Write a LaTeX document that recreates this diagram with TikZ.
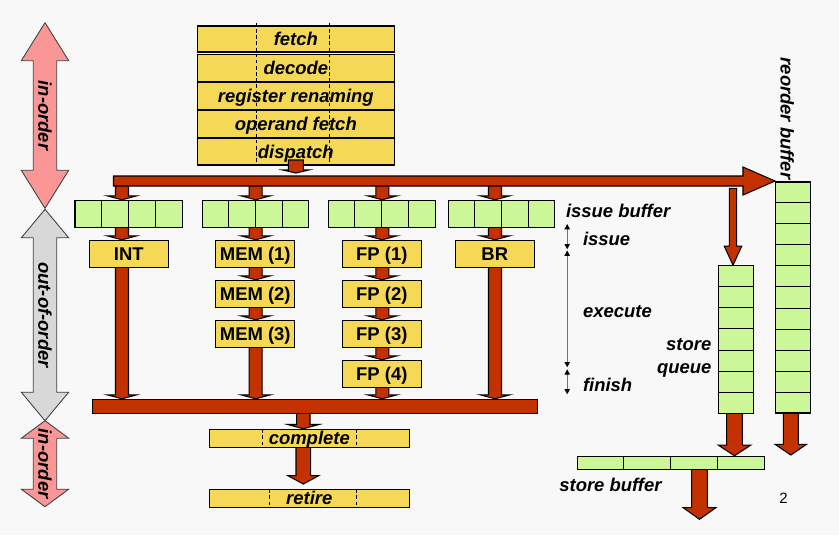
\documentclass[tikz,border=0pt]{standalone}
\usepackage{fontspec}
\setmainfont{Liberation Sans}
\usetikzlibrary{calc,backgrounds,arrows.meta}
\newlength\pu \setlength\pu{0.02cm}
\definecolor{bgcol}{HTML}{F8F8F8}
\definecolor{yelcol}{RGB}{244,216,86}
\definecolor{grncol}{RGB}{204,247,153}
\definecolor{redcol}{RGB}{196,49,0}
\definecolor{pinkcol}{RGB}{250,150,150}
\definecolor{greycol}{RGB}{216,216,216}
\newcommand\lab{\fontsize{10.5}{12}\selectfont\bfseries}
% block arrow pointing down: [style](start)(tip){shaft half}{head half}{head length}
\def\blkdown[#1](#2)(#3)#4#5#6{\draw[#1] ($(#2)+(-#4,0)$) -- ($(#3)+(-#4,-#6)$) -- ($(#3)+(-#5,-#6)$) -- (#3) -- ($(#3)+(#5,-#6)$) -- ($(#3)+(#4,-#6)$) -- ($(#2)+(#4,0)$) -- cycle;}
% vertical double block arrow: [style](top tip)(bottom tip){shaft half}{head half}{head length}
\def\dblarrow[#1](#2)(#3)#4#5#6{\draw[#1] (#2) -- ($(#2)+(#5,#6)$) -- ($(#2)+(#4,#6)$) -- ($(#3)+(#4,-#6)$) -- ($(#3)+(#5,-#6)$) -- (#3) -- ($(#3)+(-#5,-#6)$) -- ($(#3)+(-#4,-#6)$) -- ($(#2)+(-#4,#6)$) -- ($(#2)+(-#5,#6)$) -- cycle;}
\tikzset{
  stage/.style={draw, fill=yelcol, line width=0.6pt, minimum width=197\pu, inner sep=0pt, text height=7.5pt, text depth=0pt, font=\lab\itshape},
  unit/.style={draw, fill=yelcol, line width=0.6pt, minimum width=79\pu, minimum height=27\pu, inner sep=0pt, text height=7.5pt, text depth=0pt, font=\lab},
  buf/.style={draw, fill=grncol, line width=0.6pt, inner sep=0pt},
  cell/.style={line width=0.6pt},
  flow/.style={draw=black, fill=redcol, line width=0.6pt},
  pinkarrow/.style={draw=black!75, fill=pinkcol, line width=0.5pt},
  greyarrow/.style={draw=black!75, fill=greycol, line width=0.5pt},
  sep/.style={line width=0.5pt, dash pattern=on 2pt off 1.5pt},
  lbl/.style={font=\lab\itshape, inner sep=0pt},
  dim/.style={draw=black!55, line width=0.5pt, {Triangle[length=3pt,width=3pt,color=black]}-{Triangle[length=3pt,width=3pt,color=black]}}
}
\begin{document}
\begin{tikzpicture}[x=0.02cm, y=-0.02cm]
  \useasboundingbox (0,0) rectangle (839,535);

  %%% front end
  \node[stage, minimum height=26\pu] (fetch) at (295.8,39) {fetch};
  \node[stage, minimum height=27.5\pu] (decode) at (295.8,68) {decode};
  \node[stage, minimum height=28\pu] (rename) at (295.8,96) {register renaming};
  \node[stage, minimum height=28\pu] (opfetch) at (295.8,124) {operand fetch};
  \node[stage, minimum height=27\pu] (dispatch) at (295.8,151.5) {dispatch};
  \foreach \x in {256.7,329.3}
    \draw[sep] (\x,23) -- (\x,163);
  \coordinate (dtop) at (295.8,160);
  \coordinate (dtip) at (295.8,173);
  \blkdown[flow](dtop)(dtip){7.5}{13}{3}

  %%% dispatch bus
  \coordinate (bar) at (113.5,181);
  \draw[flow] (113.5,176) -- (743,176) -- (743,167) -- (775,181) -- (743,195) -- (743,186) -- (113.5,186) -- cycle;

  %%% issue buffers
  \foreach \n/\x/\w in {ib1/128.65/107.3, ib2/255.3/106, ib3/381.8/107, ib4/501.3/106} {
    \node[buf, minimum width=\w\pu, minimum height=27\pu] (\n) at (\x,213.8) {};
    \foreach \k in {1,2,3}
      \draw[cell] ($(\n.north west)!\k/4!(\n.north east)$) -- ($(\n.south west)!\k/4!(\n.south east)$);
  }

  %%% function units
  \node[unit] (int) at (128.8,253.8) {INT};
  \node[unit] (mem1) at (255.3,253.8) {MEM (1)};
  \node[unit] (mem2) at (255.3,293.8) {MEM (2)};
  \node[unit] (mem3) at (255.3,333.8) {MEM (3)};
  \node[unit] (fp1) at (381.8,253.8) {FP (1)};
  \node[unit] (fp2) at (381.8,293.8) {FP (2)};
  \node[unit] (fp3) at (381.8,333.8) {FP (3)};
  \node[unit] (fp4) at (381.8,373.8) {FP (4)};
  \node[unit] (br) at (494.8,253.8) {BR};

  %%% completion bus, complete and retire
  \node[flow, minimum width=445\pu, minimum height=14\pu, inner sep=0pt] (cbar) at (314.8,406.3) {};
  \node[stage, minimum width=200\pu, minimum height=18\pu] (complete) at (309.3,438.3) {complete};
  \node[stage, minimum width=200\pu, minimum height=18\pu] (retire) at (309.3,498.3) {retire};
  \draw[sep] (262.7,429.3) -- (262.7,447.3);
  \draw[sep] (356.7,429.3) -- (356.7,447.3);
  \draw[sep] (269.3,489.3) -- (269.3,507.3);
  \draw[sep] (356.7,489.3) -- (356.7,507.3);

  %%% reorder buffer, store queue, store buffer
  \node[buf, minimum width=34.6\pu, minimum height=231\pu] (rob) at (793,297.5) {};
  \foreach \k in {1,...,10}
    \draw[cell] ($(rob.north west)!\k/11!(rob.south west)$) -- ($(rob.north east)!\k/11!(rob.south east)$);
  \node[buf, minimum width=35\pu, minimum height=147.6\pu] (sq) at (735.8,339.5) {};
  \foreach \k in {1,...,6}
    \draw[cell] ($(sq.north west)!\k/7!(sq.south west)$) -- ($(sq.north east)!\k/7!(sq.south east)$);
  \node[buf, minimum width=187\pu, minimum height=13\pu] (sb) at (670.8,462.8) {};
  \foreach \k in {1,2,3}
    \draw[cell] ($(sb.north west)!\k/4!(sb.north east)$) -- ($(sb.south west)!\k/4!(sb.south east)$);

  %%% labels
  \node[lbl, anchor=base west] (ibl) at (565.7,217.3) {issue buffer};
  \node[lbl, anchor=base west] (isl) at (582.7,245) {issue};
  \node[lbl, anchor=base west] (exl) at (582.7,317.7) {execute};
  \node[lbl, anchor=base west] (fil) at (582.7,391) {finish};
  \node[lbl, anchor=base east] (stl) at (711.7,350.7) {store};
  \node[lbl, anchor=base east] (qul) at (711.7,373.5) {queue};
  \node[lbl, anchor=base west] (sbl) at (559,491.7) {store buffer};
  \node[lbl, rotate=-90] (robl) at (787.3,118.4) {reorder buffer};
  \node[font=\fontsize{8.5}{10}\selectfont, anchor=base west, inner sep=0pt] (page) at (779,503.3) {2};

  %%% issue / execute / finish spans
  \foreach \n/\y in {a/224, b/249.3, c/250.5, d/367.3, e/369.3, f/394.3}
    \coordinate (dim\n) at (567.2,\y);
  \draw[dim] (dima) -- (dimb);
  \draw[dim] (dimc) -- (dimd);
  \draw[dim] (dime) -- (dimf);

  %%% left side: order arrows
  \dblarrow[pinkarrow](45,22.7)(45,208.3){11.7}{23.7}{38}
  \dblarrow[greyarrow](45,209.3)(45,420.7){11.7}{23.7}{28.5}
  \dblarrow[pinkarrow](45,420.7)(45,506.7){11.7}{23.7}{17.5}
  \node[lbl, rotate=-90] (ord1) at (45,115.5) {in-order};
  \node[lbl, rotate=-90] (ord2) at (45,315) {out-of-order};
  \node[lbl, rotate=-90] (ord3) at (45,463.7) {in-order};

  %%% data flow arrows, behind the boxes
  \begin{scope}[on background layer]
    \fill[bgcol] (0,0) rectangle (839,535);
    \coordinate (cint) at (122,0);
    \coordinate (cmem) at (255.7,0);
    \coordinate (cfp) at (382.3,0);
    \coordinate (cbr) at (495,0);
    \foreach \c/\a/\b in {cint/bar/ib1, cint/ib1/int, cint/int/cbar,
        cmem/bar/ib2, cmem/ib2/mem1, cmem/mem1/mem2, cmem/mem2/mem3, cmem/mem3/cbar,
        cfp/bar/ib3, cfp/ib3/fp1, cfp/fp1/fp2, cfp/fp2/fp3, cfp/fp3/fp4, cfp/fp4/cbar,
        cbr/bar/ib4, cbr/ib4/br, cbr/br/cbar}
      {\blkdown[flow](\c |- \a)(\c |- \b.north){6.5}{15}{4}}
    \coordinate (ccol) at (303.3,0);
    \coordinate (rtip) at (303.3,484);
    \blkdown[flow](ccol |- cbar)(ccol |- complete.north){6.7}{15.7}{4.3}
    \blkdown[flow](ccol |- complete)(rtip){7.3}{15.3}{8.3}
    \coordinate (sqtop) at (733,188.3);
    \blkdown[flow](sqtop)(sqtop |- sq.north){3.7}{8.7}{19}
    \coordinate (sqcol) at (734.5,0);
    \blkdown[flow](sqcol |- sq)(sqcol |- sb.north){7.8}{16.3}{10.7}
    \coordinate (robtip) at (790.8,455);
    \blkdown[flow](robtip |- rob)(robtip){7.5}{15.8}{10.7}
    \coordinate (sbtip) at (699.5,519.3);
    \blkdown[flow](sbtip |- sb)(sbtip){7.8}{16.3}{11.6}
  \end{scope}
\end{tikzpicture}
\end{document}
